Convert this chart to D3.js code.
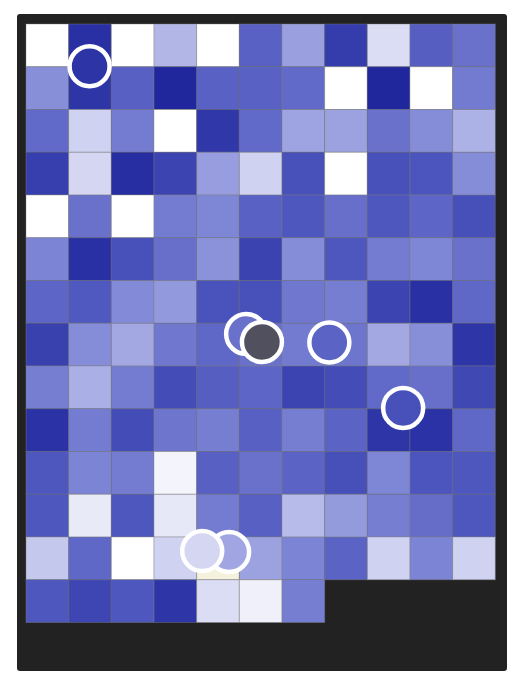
<!DOCTYPE html>
<html>
<head>
<meta charset="utf-8">
<script src="https://cdn.jsdelivr.net/npm/d3@7"></script>
<style>
  html, body { margin: 0; padding: 0; background: #ffffff; }
  svg { display: block; }
</style>
</head>
<body>
<svg id="chart" width="528" height="684"></svg>
<script>
// ---- data ----
const nCols = 11;
const cellRows = [
  [0, 0.95, 0, 0.28, 0, 0.68, 0.38, 0.88, 0.13, 0.7, 0.6],
  [0.45, 0.92, 0.69, 1.0, 0.68, 0.68, 0.64, 0, 1.0, 0, 0.55],
  [0.64, 0.17, 0.54, 0, 0.91, 0.64, 0.36, 0.37, 0.6, 0.46, 0.3],
  [0.87, 0.15, 0.96, 0.84, 0.39, 0.17, 0.77, 0, 0.77, 0.75, 0.46],
  [0, 0.6, 0, 0.54, 0.49, 0.68, 0.74, 0.61, 0.74, 0.66, 0.78],
  [0.5, 0.95, 0.77, 0.61, 0.44, 0.85, 0.46, 0.74, 0.54, 0.49, 0.6],
  [0.66, 0.73, 0.47, 0.41, 0.76, 0.77, 0.57, 0.53, 0.84, 0.95, 0.65],
  [0.86, 0.46, 0.34, 0.57, 0.65, 0.6, 0.55, 0.58, 0.34, 0.45, 0.92],
  [0.53, 0.31, 0.54, 0.8, 0.7, 0.66, 0.84, 0.8, 0.64, 0.61, 0.82],
  [0.94, 0.54, 0.8, 0.58, 0.53, 0.69, 0.53, 0.67, 0.92, 0.94, 0.65],
  [0.74, 0.5, 0.54, 0.04, 0.69, 0.6, 0.67, 0.78, 0.49, 0.75, 0.74],
  [0.74, 0.08, 0.74, 0.09, 0.54, 0.69, 0.26, 0.4, 0.53, 0.62, 0.74],
  [0.21, 0.65, 0, 0.17, null, 0.37, 0.5, 0.67, 0.17, 0.5, 0.17],
  [0.74, 0.83, 0.74, 0.92, 0.13, 0.055, 0.53]
];
// point markers: column / row position in grid units, value, selected flag
const pointCol = [1.49, 5.16, 5.53, 7.11, 8.84, 4.76, 4.13];
const pointRow = [0.99, 7.25, 7.44, 7.45, 8.98, 12.35, 12.33];
const pointValue = [0.93, 0.6, 0.6, 0.67, 0.77, 0.35, 0.15];
const pointSelected = [false, false, true, false, false, false, false];

// ---- layout ----
const svg = d3.select("#chart");
const frame = { x: 17, y: 14, w: 490, h: 657 };
const gridX0 = 26, gridX1 = 495.3, gridY0 = 24, gridY1 = 622.5;

const x = d3.scaleBand().domain(d3.range(nCols)).range([gridX0, gridX1]).paddingInner(0).paddingOuter(0);
const y = d3.scaleBand().domain(d3.range(cellRows.length)).range([gridY0, gridY1]).paddingInner(0).paddingOuter(0);
const xPos = d3.scaleLinear().domain([0, nCols]).range([gridX0, gridX1]);
const yPos = d3.scaleLinear().domain([0, cellRows.length]).range([gridY0, gridY1]);

const color = d3.scaleLinear()
  .domain([0, 0.25, 0.5, 0.75, 1])
  .range(["#ffffff", "#b9bdea", "#7c84d5", "#4c55bd", "#20279d"])
  .clamp(true);
const missingColor = "#f4f1dc";
const selectedColor = "#50505e";

svg.append("rect")
  .attr("x", frame.x).attr("y", frame.y)
  .attr("width", frame.w).attr("height", frame.h)
  .attr("rx", 3).attr("ry", 3)
  .attr("fill", "#222222");

const cells = [];
cellRows.forEach((row, r) => row.forEach((v, c) => cells.push({ r, c, v })));

svg.append("g").selectAll("rect")
  .data(cells)
  .join("rect")
  .attr("x", d => x(d.c))
  .attr("y", d => y(d.r))
  .attr("width", x.bandwidth())
  .attr("height", y.bandwidth())
  .attr("fill", d => d.v == null ? missingColor : color(d.v))
  .attr("stroke", "#808080")
  .attr("stroke-opacity", 0.4)
  .attr("stroke-width", 1);

const points = pointCol.map((c, i) => ({ c, r: pointRow[i], v: pointValue[i], sel: pointSelected[i] }));

svg.append("g").selectAll("circle")
  .data(points)
  .join("circle")
  .attr("cx", d => xPos(d.c))
  .attr("cy", d => yPos(d.r))
  .attr("r", 20)
  .attr("fill", d => d.sel ? selectedColor : color(d.v))
  .attr("stroke", "#ffffff")
  .attr("stroke-width", 4.5);
</script>
</body>
</html>
